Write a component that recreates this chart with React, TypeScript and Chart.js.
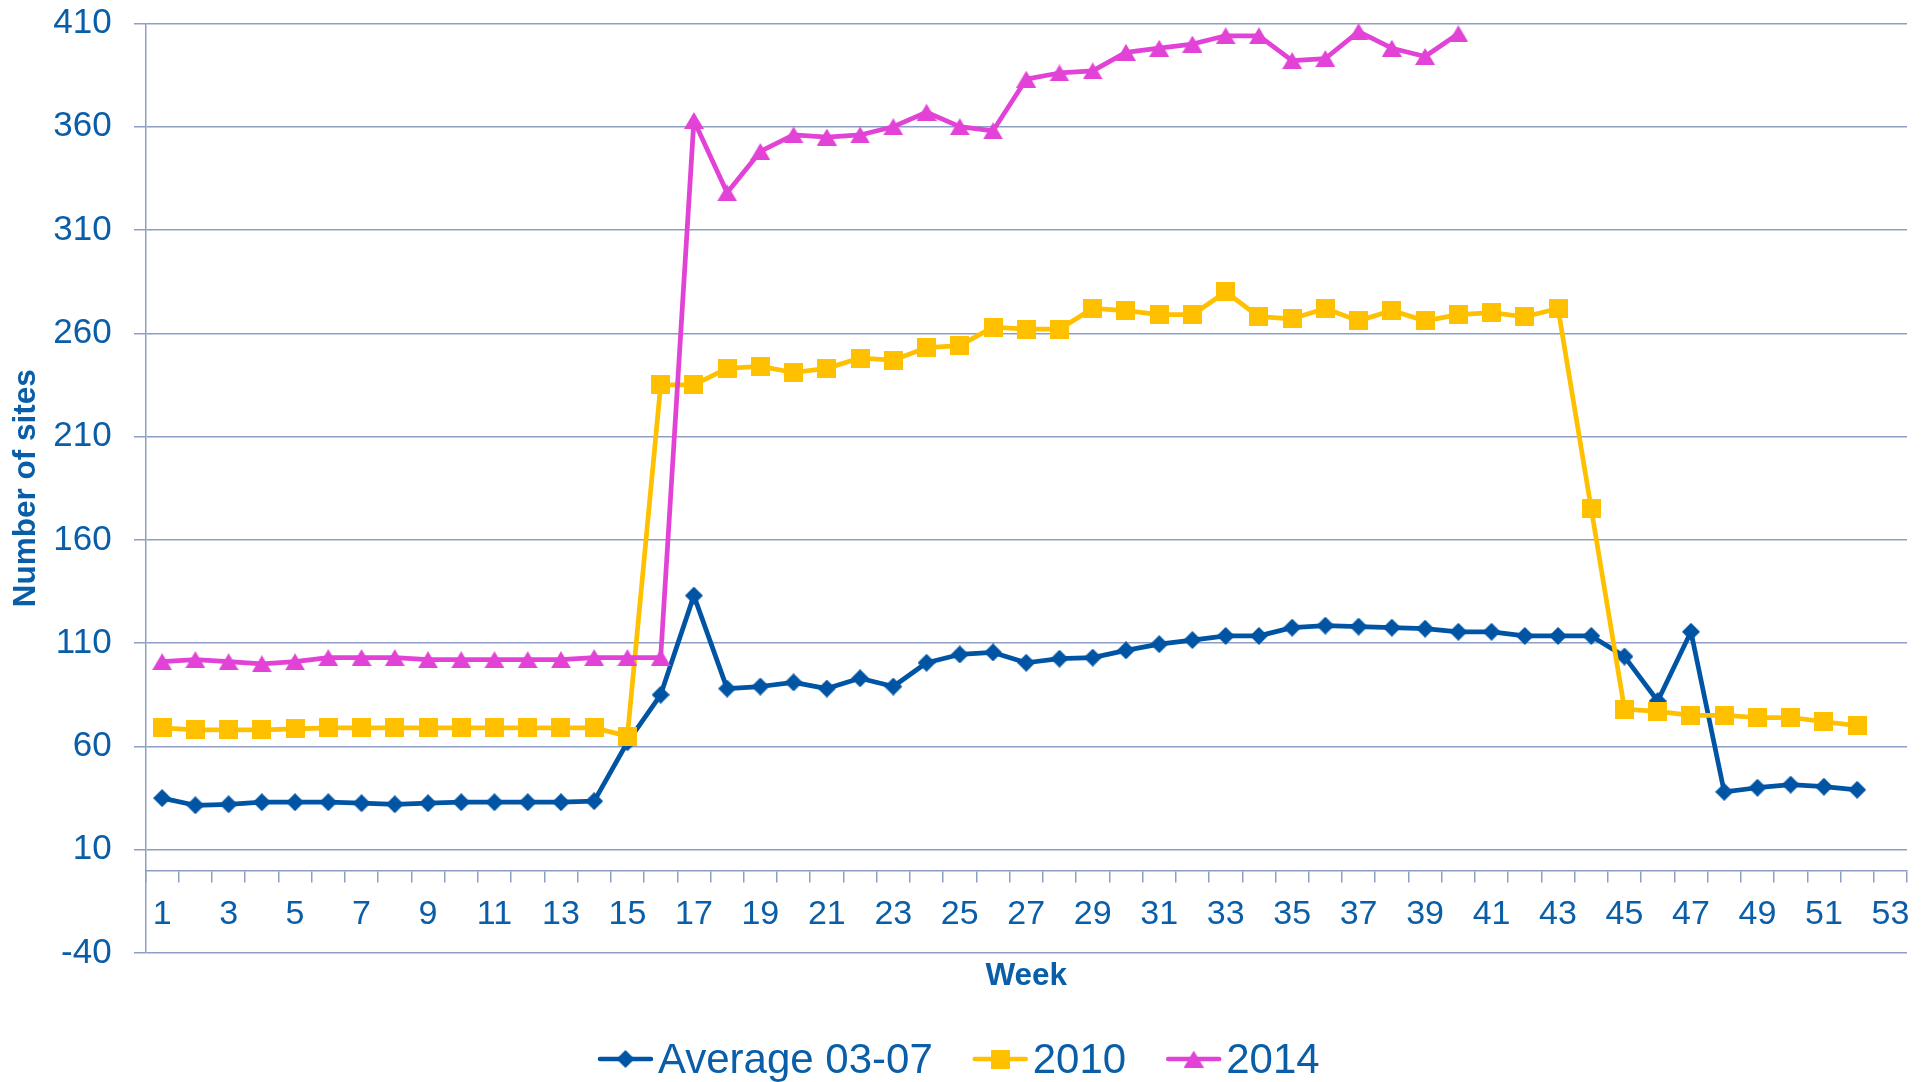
import React, { useEffect, useRef } from 'react';
import { Chart, registerables } from 'chart.js';

Chart.register(...registerables);

const weekLabels = ['1','2','3','4','5','6','7','8','9','10','11','12','13','14','15','16','17','18','19','20','21','22','23','24','25','26','27','28','29','30','31','32','33','34','35','36','37','38','39','40','41','42','43','44','45','46','47','48','49','50','51','52','53'];

const yTickValues = [-40, 10, 60, 110, 160, 210, 260, 310, 360, 410];

const avg0307 = [35, 31.5, 32, 33, 33, 33, 32.5, 32, 32.5, 33, 33, 33, 33, 33.5, 62, 85, 133, 88, 89, 91, 88, 93, 89, 100.5, 104.5, 105.5, 100.5, 102.5, 103, 106.5, 109.5, 111.5, 113.5, 113.5, 117.5, 118.5, 118, 117.5, 117, 115.5, 115.5, 113.5, 113.5, 113.5, 103.5, 82, 115.5, 38, 40, 41.5, 40.5, 39, null];

const y2010 = [69, 68, 68, 68, 68.5, 69, 69, 69, 69, 69, 69, 69, 69, 69, 65, 235, 235, 243, 244, 241, 243, 248, 247, 253, 254, 263, 262, 262, 272, 271, 269, 269, 280, 268, 267, 272, 266, 271, 266, 269, 270, 268, 272, 175, 78, 77, 75, 75, 74, 74, 72, 70, null];

const y2014 = [101, 102, 101, 100, 101, 103, 103, 103, 102, 102, 102, 102, 102, 103, 103, 103, 363, 328, 348, 356, 355, 356, 360, 367, 360, 358, 383, 386, 387, 396, 398, 400, 404, 404, 392, 393, 406, 398, 394, 405, null, null, null, null, null, null, null, null, null, null, null, null, null];

const seriesNames = ['Average 03-07', '2010', '2014'];

const FAMILY = '"Liberation Sans", Arial, sans-serif';
const TEXT = '#0A5EA8';
const GRID = '#8E9DC3';
const C_AVG = '#0054A4';
const C_2010 = '#FFC000';
const C_2014 = '#E243D6';

function makeMarker(kind: string, color: string, w: number, h: number) {
  const c = document.createElement('canvas');
  c.width = w;
  c.height = h;
  const g = c.getContext('2d')!;
  g.fillStyle = color;
  g.beginPath();
  if (kind === 'diamond') {
    g.moveTo(w / 2, 0);
    g.lineTo(w, h / 2);
    g.lineTo(w / 2, h);
    g.lineTo(0, h / 2);
  } else if (kind === 'square') {
    g.rect(0, 0, w, h);
  } else {
    g.moveTo(w / 2, 0);
    g.lineTo(w, h);
    g.lineTo(0, h);
  }
  g.closePath();
  g.fill();
  return c;
}

export default function App() {
  const ref = useRef<HTMLCanvasElement | null>(null);

  useEffect(() => {
    const canvas = ref.current;
    if (!canvas) return;
    const mDiamond = makeMarker('diamond', C_AVG, 18, 18);
    const mSquare = makeMarker('square', C_2010, 19, 19);
    const mTri = makeMarker('triangle', C_2014, 20, 17);

    const legendItems = [
      { label: seriesNames[0], color: C_AVG, marker: mDiamond },
      { label: seriesNames[1], color: C_2010, marker: mSquare },
      { label: seriesNames[2], color: C_2014, marker: mTri },
    ];

    const customLegend = {
      id: 'customLegend',
      afterDraw(chart: any) {
        const ctx = chart.ctx;
        ctx.save();
        ctx.font = `42px ${FAMILY}`;
        let x = 598;
        const yLine = 1059;
        const yText = 1073.3;
        legendItems.forEach((item) => {
          ctx.strokeStyle = item.color;
          ctx.lineWidth = 4.5;
          ctx.lineCap = 'round';
          ctx.beginPath();
          ctx.moveTo(x + 2, yLine);
          ctx.lineTo(x + 53, yLine);
          ctx.stroke();
          const m = item.marker;
          ctx.drawImage(m, x + 27.5 - m.width / 2, yLine - m.height / 2);
          ctx.fillStyle = TEXT;
          ctx.textBaseline = 'alphabetic';
          ctx.textAlign = 'left';
          ctx.fillText(item.label, x + 60, yText);
          x += 60 + ctx.measureText(item.label).width + 40;
        });
        ctx.restore();
      },
    };

    const common = {
      borderWidth: 4.75,
      pointRadius: 9,
      pointHoverRadius: 9,
      tension: 0,
      spanGaps: false,
      borderJoinStyle: 'round',
      borderCapStyle: 'round',
    };

    const chart = new Chart(canvas, {
      type: 'line',
      data: {
        labels: weekLabels,
        datasets: [
          { ...common, label: seriesNames[0], data: avg0307, borderColor: C_AVG, backgroundColor: C_AVG, pointStyle: mDiamond, order: 3 },
          { ...common, label: seriesNames[1], data: y2010, borderColor: C_2010, backgroundColor: C_2010, pointStyle: mSquare, order: 2 },
          { ...common, label: seriesNames[2], data: y2014, borderColor: C_2014, backgroundColor: C_2014, pointStyle: mTri, order: 1 },
        ] as any,
      },
      options: {
        responsive: false,
        animation: false,
        layout: { padding: { left: 0, top: 23.4, right: 23, bottom: 129 } },
        plugins: {
          legend: { display: false },
          tooltip: { enabled: false },
        },
        scales: {
          x: {
            type: 'category',
            position: { y: 0 } as any,
            offset: true,
            grid: {
              display: true,
              drawOnChartArea: false,
              drawTicks: true,
              tickLength: 11,
              offset: true,
              color: GRID,
              lineWidth: 1.5,
            },
            border: { display: true, color: GRID, width: 1.5 },
            ticks: {
              autoSkip: false,
              maxRotation: 0,
              minRotation: 0,
              padding: 13,
              color: TEXT,
              font: { size: 34, family: FAMILY },
              callback: (_v: any, i: number) => (i % 2 === 0 ? weekLabels[i] : ''),
            },
            title: {
              display: true,
              text: 'Week',
              color: TEXT,
              font: { size: 31.5, weight: 'bold', family: FAMILY },
              padding: { top: 9.3, bottom: 0 },
            },
          },
          y: {
            min: -40,
            max: 410,
            afterBuildTicks: (s: any) => {
              s.ticks = yTickValues.map((v) => ({ value: v }));
            },
            afterFit: (s: any) => {
              s.width = 145.5;
              s.paddingTop = 0;
              s.paddingBottom = 0;
            },
            grid: { color: GRID, lineWidth: 1.5, tickLength: 11.5, drawTicks: true },
            border: { display: true, color: GRID, width: 1.5 },
            ticks: { padding: 22.4, color: TEXT, font: { size: 35, family: FAMILY } },
            title: {
              display: true,
              text: 'Number of sites',
              color: TEXT,
              font: { size: 31.5, weight: 'bold', family: FAMILY },
              padding: { top: 7.4, bottom: 0 },
            },
          },
        },
      } as any,
      plugins: [customLegend],
    });

    return () => chart.destroy();
  }, []);

  return (
    <div style={{ position: 'fixed', left: 0, top: 0, width: 1930, height: 1082, background: '#fff' }}>
      <canvas ref={ref} width={1930} height={1082} style={{ display: 'block', width: 1930, height: 1082 }} />
    </div>
  );
}
